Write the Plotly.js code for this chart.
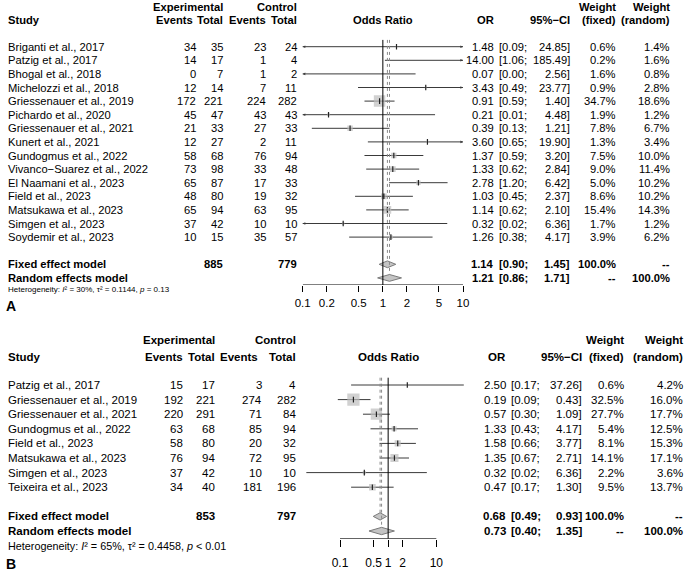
<!DOCTYPE html>
<html><head><meta charset="utf-8">
<script src="https://cdn.plot.ly/plotly-3.0.1.min.js"></script>
<style>body{margin:0;background:#fff}</style>
</head><body><div id="chart" style="width:685px;height:571px"></div>
<script>
// ---------- Panel A data ----------
const studiesA = ["Briganti et al., 2017","Patzig et al., 2017","Bhogal et al., 2018","Michelozzi et al., 2018","Griessenauer et al., 2019","Pichardo et al., 2020","Griessenauer et al., 2021","Kunert et al., 2021","Gundogmus et al., 2022","Vivanco\u2212Suarez et al., 2022","El Naamani et al., 2023","Field et al., 2023","Matsukawa et al., 2023","Simgen et al., 2023","Soydemir et al., 2023"];
const expEventsA = [34,14,0,12,172,45,21,12,58,73,65,48,65,37,10];
const expTotalA  = [35,17,7,14,221,47,33,27,68,98,87,80,94,42,15];
const ctrlEventsA = [23,1,1,7,224,43,27,2,76,33,17,19,63,10,35];
const ctrlTotalA  = [24,4,2,11,282,43,33,11,94,48,33,32,95,10,57];
const orA = [1.48,14.00,0.07,3.43,0.91,0.21,0.39,3.60,1.37,1.33,2.78,1.03,1.14,0.32,1.26];
const loA = [0.09,1.06,0.00,0.49,0.59,0.01,0.13,0.65,0.59,0.62,1.20,0.45,0.62,0.02,0.38];
const hiA = [24.85,185.49,2.56,23.77,1.40,4.48,1.21,19.90,3.20,2.84,6.42,2.37,2.10,6.36,4.17];
const wFixedA  = [0.6,0.2,1.6,0.9,34.7,1.9,7.8,1.3,7.5,9.0,5.0,8.6,15.4,1.7,3.9];
const wRandomA = [1.4,1.6,0.8,2.8,18.6,1.2,6.7,3.4,10.0,11.4,10.2,10.2,14.3,1.2,6.2];
const fixedA  = [1.14,0.90,1.45];   // OR, lo, hi
const randomA = [1.21,0.86,1.71];
const totalsA = [885,779];
const hetA = "Heterogeneity: <i>I</i>\u00b2 = 30%, \u03c4\u00b2 = 0.1144, <i>p</i> = 0.13";
const ticksA = [0.1,0.2,0.5,1,2,5,10];
const tickTextA = ["0.1","0.2","0.5","1","2","5","10"];

// ---------- Panel B data ----------
const studiesB = ["Patzig et al., 2017","Griessenauer et al., 2019","Griessenauer et al., 2021","Gundogmus et al., 2022","Field et al., 2023","Matsukawa et al., 2023","Simgen et al., 2023","Teixeira et al., 2023"];
const expEventsB = [15,192,220,63,58,76,37,34];
const expTotalB  = [17,221,291,68,80,94,42,40];
const ctrlEventsB = [3,274,71,85,20,72,10,181];
const ctrlTotalB  = [4,282,84,94,32,95,10,196];
const orB = [2.50,0.19,0.57,1.33,1.58,1.35,0.32,0.47];
const loB = [0.17,0.09,0.30,0.43,0.66,0.67,0.02,0.17];
const hiB = [37.26,0.43,1.09,4.17,3.77,2.71,6.36,1.30];
const wFixedB  = [0.6,32.5,27.7,5.4,8.1,14.1,2.2,9.5];
const wRandomB = [4.2,16.0,17.7,12.5,15.3,17.1,3.6,13.7];
const fixedB  = [0.68,0.49,0.93];
const randomB = [0.73,0.40,1.35];
const totalsB = [853,797];
const hetB = "Heterogeneity: <i>I</i>\u00b2 = 65%, \u03c4\u00b2 = 0.4458, <i>p</i> &lt; 0.01";
const ticksB = [0.1,0.5,1,2,10];
const tickTextB = ["0.1","0.5","1","2","10"];

// ---------- rendering ----------
const W = 685, H = 571;
const FONT = "Liberation Sans, Arial, Helvetica, sans-serif";
const traces = [], annotations = [];
const layout = {
  width: W, height: H, margin: {l:0, r:0, t:0, b:0},
  paper_bgcolor: "#fff", plot_bgcolor: "rgba(0,0,0,0)", showlegend: false,
  font: {family: FONT, size: 11, color: "#000"},
  annotations: annotations
};

function panel(P) {
  const xa = P.xa, ya = P.ya;
  const n = P.studies.length;
  const fixedRow = n + 1, randomRow = n + 2;
  const rowsIdx = P.studies.map((_, i) => i);
  const rTop = (P.topPx - P.row0Px) / P.rowH;
  const rAxis = (P.axisPx - P.row0Px) / P.rowH;
  const axX = xa === "x" ? "xaxis" : "xaxis" + xa.slice(1);
  const axY = ya === "y" ? "yaxis" : "yaxis" + ya.slice(1);
  layout[axX] = {
    type: "log", range: P.range, anchor: ya, fixedrange: true,
    domain: [(P.px1 + P.range[0] * P.ppd) / W, (P.px1 + P.range[1] * P.ppd) / W],
    showline: false, showgrid: false, zeroline: false,
    ticks: "outside", ticklen: P.ticklen, tickwidth: 1, tickcolor: "#000", ticklabelstandoff: P.standoff,
    tickvals: P.ticks, ticktext: P.tickText, tickfont: {size: P.tfs, color: "#000"}
  };
  layout[axY] = {
    domain: [1 - P.axisPx / H, 1 - P.topPx / H], range: [rAxis, rTop],
    visible: false, fixedrange: true
  };
  const base = {type: "scatter", xaxis: xa, yaxis: ya, hoverinfo: "skip", showlegend: false};
  // confidence interval lines
  const lx = [], ly = [];
  P.lo.forEach((lo, i) => { lx.push(Math.max(lo, 1e-4), P.hi[i], null); ly.push(i, i, null); });
  traces.push(Object.assign({}, base, {mode: "lines", x: lx, y: ly, line: {color: "#3a3a3a", width: 1}}));
  // arrows where CI leaves the plotted range
  const xmin = Math.pow(10, P.range[0]), xmax = Math.pow(10, P.range[1]);
  const axp = [], ayp = [], asym = [];
  P.lo.forEach((lo, i) => {
    if (lo < xmin) { axp.push(xmin); ayp.push(i); asym.push("arrow-left"); }
    if (P.hi[i] > xmax) { axp.push(xmax); ayp.push(i); asym.push("arrow-right"); }
  });
  if (axp.length) traces.push(Object.assign({}, base, {mode: "markers", x: axp, y: ayp, cliponaxis: false,
    marker: {symbol: asym, size: 2.6, color: "#3a3a3a", line: {width: 0}}}));
  // weight squares
  traces.push(Object.assign({}, base, {mode: "markers", x: P.or, y: rowsIdx,
    marker: {symbol: "square", size: P.wFixed.map(w => P.boxK * Math.sqrt(w)), color: "#bdbdbd", line: {width: 0}}}));
  // point marks
  traces.push(Object.assign({}, base, {mode: "markers", x: P.or, y: rowsIdx,
    marker: {symbol: "line-ns", size: 4, line: {color: "#222", width: 1.2}}}));
  // diamonds
  [[P.fixed, fixedRow], [P.random, randomRow]].forEach(([m, r]) => {
    traces.push(Object.assign({}, base, {mode: "lines", fill: "toself", fillcolor: "#c4c4c4",
      x: [m[1], m[0], m[2], m[0], m[1]], y: [r, r - P.diaH, r, r + P.diaH, r],
      line: {color: "#7a7a7a", width: 1}}));
  });
  // reference lines
  traces.push(Object.assign({}, base, {mode: "lines", x: [P.fixed[0], P.fixed[0]], y: [-0.5, fixedRow - P.diaH],
    line: {color: "#8a8a8a", width: 1, dash: "dot"}}));
  traces.push(Object.assign({}, base, {mode: "lines", x: [P.random[0], P.random[0]], y: [-0.5, randomRow - P.diaH],
    line: {color: "#8a8a8a", width: 1, dash: "dot"}}));
  traces.push(Object.assign({}, base, {mode: "lines", x: [1, 1], y: [-0.5, rAxis], line: {color: "#000", width: 1}}));
  // axis line between first and last tick
  traces.push(Object.assign({}, base, {mode: "lines", cliponaxis: false,
    x: [P.ticks[0], P.ticks[P.ticks.length - 1]], y: [rAxis, rAxis], line: {color: "#000", width: 1}}));
  // text helper
  const C = P.cols;
  function t(xpx, row, text, anchor, bold, size) {
    annotations.push({xref: "paper", yref: ya, x: xpx / W, y: row, text: bold ? "<b>" + text + "</b>" : text,
      showarrow: false, xanchor: anchor || "right", yanchor: "middle",
      font: {family: FONT, size: size || P.fs, color: "#000"}});
  }
  // headers
  const h1 = P.hRows[0], h2 = P.hRows[1];
  t(C.tot1, h1, "Experimental", "right", true);
  t(C.tot2, h1, "Control", "right", true);
  t(C.wf, h1, "Weight", "right", true);
  t(C.wr, h1, "Weight", "right", true);
  t(C.study, h2, "Study", "left", true);
  t(C.ev1h, h2, "Events", "right", true);
  t(C.tot1, h2, "Total", "right", true);
  t(C.ev2h, h2, "Events", "right", true);
  t(C.tot2, h2, "Total", "right", true);
  annotations.push({xref: "paper", yref: ya, x: P.px1 / W, y: h2, text: "<b>Odds Ratio</b>", showarrow: false,
    xanchor: "center", yanchor: "middle", font: {family: FONT, size: P.fs, color: "#000"}});
  t(C.or, h2, "OR", "right", true);
  t(C.ciR, h2, "95%\u2212CI", "right", true);
  t(C.wf, h2, "(fixed)", "right", true);
  t(C.wr, h2, "(random)", "right", true);
  // study rows
  P.studies.forEach((s, i) => {
    t(C.study, i, s, "left");
    t(C.ev1, i, String(P.ev1[i]));
    t(C.tot1, i, String(P.tot1[i]));
    t(C.ev2, i, String(P.ev2[i]));
    t(C.tot2, i, String(P.tot2[i]));
    t(C.or, i, P.or[i].toFixed(2));
    t(C.ciL, i, "[" + P.lo[i].toFixed(2) + ";", "left");
    t(C.ciR, i, P.hi[i].toFixed(2) + "]");
    t(C.wf, i, P.wFixed[i].toFixed(1) + "%");
    t(C.wr, i, P.wRandom[i].toFixed(1) + "%");
  });
  // model rows
  t(C.study, fixedRow, "Fixed effect model", "left", true);
  t(C.tot1, fixedRow, String(P.totals[0]), "right", true);
  t(C.tot2, fixedRow, String(P.totals[1]), "right", true);
  t(C.or, fixedRow, P.fixed[0].toFixed(2), "right", true);
  t(C.ciL, fixedRow, "[" + P.fixed[1].toFixed(2) + ";", "left", true);
  t(C.ciR, fixedRow, P.fixed[2].toFixed(2) + "]", "right", true);
  t(C.wf, fixedRow, "100.0%", "right", true);
  t(C.wr, fixedRow, "--", "right", true);
  t(C.study, randomRow, "Random effects model", "left", true);
  t(C.or, randomRow, P.random[0].toFixed(2), "right", true);
  t(C.ciL, randomRow, "[" + P.random[1].toFixed(2) + ";", "left", true);
  t(C.ciR, randomRow, P.random[2].toFixed(2) + "]", "right", true);
  t(C.wf, randomRow, "--", "right", true);
  t(C.wr, randomRow, "100.0%", "right", true);
  // heterogeneity + panel letter (below the axis, paper coordinates)
  annotations.push({xref: "paper", yref: "paper", x: 6 / W, y: 1 - P.hetPx / H, text: P.het, showarrow: false,
    xanchor: "left", yanchor: "middle", font: {family: FONT, size: P.hetFs, color: "#000"}});
  annotations.push({xref: "paper", yref: "paper", x: 4 / W, y: 1 - P.letterPx / H, text: "<b>" + P.letter + "</b>",
    showarrow: false, xanchor: "left", yanchor: "middle", font: {family: FONT, size: 14, color: "#000"}});
}

panel({
  xa: "x", ya: "y", studies: studiesA, ev1: expEventsA, tot1: expTotalA, ev2: ctrlEventsA, tot2: ctrlTotalA,
  or: orA, lo: loA, hi: hiA, wFixed: wFixedA, wRandom: wRandomA, fixed: fixedA, random: randomA, totals: totalsA,
  het: hetA, ticks: ticksA, tickText: tickTextA, letter: "A",
  row0Px: 46.7, rowH: 13.6, topPx: 0, axisPx: 285, px1: 382.85, ppd: 80.15, range: [-1, 1],
  ticklen: 6, standoff: 1, tfs: 11.5,
  boxK: 1.95, diaH: 0.25, fs: 11.2, hetFs: 8, hetPx: 289, letterPx: 306, hRows: [-2.9, -1.95],
  cols: {study: 6, ev1: 198, ev1h: 195, tot1: 224.5, ev2: 268, ev2h: 268, tot2: 299, or: 496, ciL: 497, ciR: 572, wf: 618, wr: 672}
});
panel({
  xa: "x2", ya: "y2", studies: studiesB, ev1: expEventsB, tot1: expTotalB, ev2: ctrlEventsB, tot2: ctrlTotalB,
  or: orB, lo: loB, hi: hiB, wFixed: wFixedB, wRandom: wRandomB, fixed: fixedB, random: randomB, totals: totalsB,
  het: hetB, ticks: ticksB, tickText: tickTextB, letter: "B",
  row0Px: 385, rowH: 14.6, topPx: 316, axisPx: 538.7, px1: 388.15, ppd: 48.15, range: [-1.8, 1.6],
  ticklen: 7, standoff: 6, tfs: 12,
  boxK: 2.15, diaH: 0.25, fs: 11.5, hetFs: 10.8, hetPx: 546, letterPx: 564, hRows: [-3.08, -1.92],
  cols: {study: 6, ev1: 185, ev1h: 185, tot1: 217, ev2: 264, ev2h: 260, tot2: 298, or: 508, ciL: 509, ciR: 584, wf: 626, wr: 685}
});

Plotly.newPlot("chart", traces, layout, {displayModeBar: false, staticPlot: true});
</script>
</body></html>
